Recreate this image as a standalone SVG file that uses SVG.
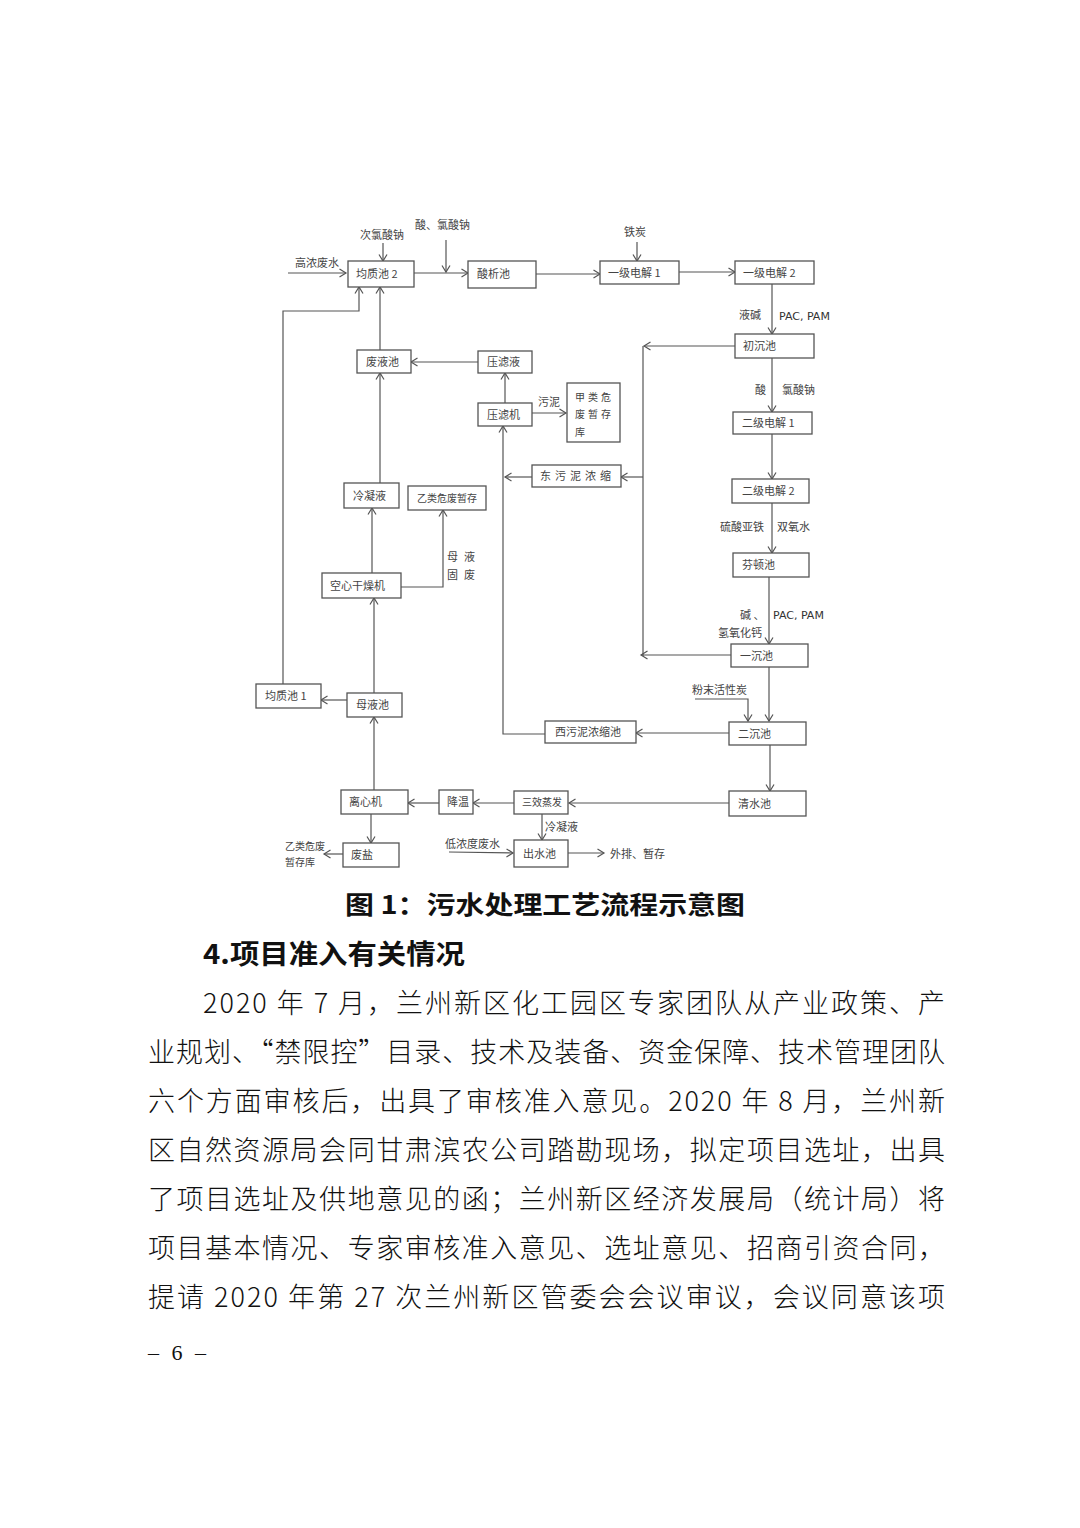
<svg xmlns="http://www.w3.org/2000/svg" width="1080" height="1528" viewBox="0 0 1080 1528">
<style>
.b{fill:#fff;stroke:#555;stroke-width:1.3}
.t{font-family:"Noto Sans CJK SC","Liberation Serif",sans-serif;font-size:11px;fill:#444}
.s{font-family:"Noto Sans CJK SC","Liberation Serif",sans-serif;font-size:10px;fill:#444}
.c path{fill:none;stroke:#555;stroke-width:1.2}
.p{font-family:"DejaVu Sans","Noto Sans CJK SC",sans-serif;font-size:11px;fill:#333}
.body{font-family:"Noto Sans CJK SC",sans-serif;font-size:27px;font-weight:300;fill:#111}
.h{font-family:"Noto Sans CJK SC",sans-serif;font-weight:bold;fill:#111}
</style>
<defs>
<marker id="a" markerWidth="10" markerHeight="10" refX="8" refY="5" orient="auto" markerUnits="userSpaceOnUse">
<path d="M1.5,1 L8,5 L1.5,9" fill="none" stroke="#555" stroke-width="1.2"/>
</marker>
</defs>
<rect width="1080" height="1528" fill="#fff"/>

<g class="c" id="connectors" marker-end="url(#a)">
<path d="M288,273 H346"/>
<path d="M383,243 V261"/>
<path d="M414,273 H468"/>
<path d="M446,240 V272"/>
<path d="M536,274 H600"/>
<path d="M637,242 V261"/>
<path d="M679,272 H735"/>
<path d="M772,284 V334"/>
<path d="M735,346 H644"/>
<path d="M643,346 V656" marker-end="none"/>
<path d="M772,358 V412"/>
<path d="M772,434 V479"/>
<path d="M772,503 V553"/>
<path d="M769,577 V644"/>
<path d="M731,655 H641"/>
<path d="M643,477 H621"/>
<path d="M532,477 H505"/>
<path d="M545,734 H503 V426"/>
<path d="M505,403 V373"/>
<path d="M532,413 H566"/>
<path d="M478,362 H411"/>
<path d="M380,350 V287"/>
<path d="M380,483 V373"/>
<path d="M372,573 V508"/>
<path d="M401,587 H443 V510"/>
<path d="M374,693 V598"/>
<path d="M347,700 H321"/>
<path d="M283,684 V311 H359 V287"/>
<path d="M769,667 V721"/>
<path d="M695,699 H748 V721"/>
<path d="M729,733 H636"/>
<path d="M770,745 V791"/>
<path d="M729,803 H569"/>
<path d="M514,803 H473"/>
<path d="M439,803 H408"/>
<path d="M374,790 V717"/>
<path d="M371,814 V843"/>
<path d="M343,854 H324"/>
<path d="M542,814 V840"/>
<path d="M449,852 L513,853"/>
<path d="M568,853 H604"/>
</g>

<g id="labels">
<text class="t" x="295" y="267">高浓废水</text>
<text class="t" x="360" y="239">次氯酸钠</text>
<text class="t" x="415" y="229">酸、氯酸钠</text>
<text class="t" x="624" y="236">铁炭</text>
<text class="t" x="739" y="319">液碱</text>
<text class="p" x="779" y="320">PAC, PAM</text>
<text class="t" x="755" y="394">酸</text>
<text class="t" x="782" y="394">氯酸钠</text>
<text class="t" x="538" y="406">污泥</text>
<text class="t" x="720" y="531">硫酸亚铁</text>
<text class="t" x="777" y="531">双氧水</text>
<text class="t" x="447" y="561" letter-spacing="6">母液</text>
<text class="t" x="447" y="579" letter-spacing="6">固废</text>
<text class="t" x="740" y="619">碱 、</text>
<text class="p" x="773" y="619">PAC, PAM</text>
<text class="t" x="718" y="637">氢氧化钙</text>
<text class="t" x="692" y="694">粉末活性炭</text>
<text class="t" x="545" y="831">冷凝液</text>
<text class="t" x="445" y="848">低浓度废水</text>
<text class="t" x="610" y="858">外排、暂存</text>
<text class="s" x="285" y="850" font-size="9">乙类危废</text>
<text class="s" x="285" y="866" font-size="9">暂存库</text>
</g>

<g id="n_jz2"><rect class="b" x="348" y="261" width="66" height="26"/><text class="t" x="356" y="278">均质池 2</text></g>
<g id="n_sx"><rect class="b" x="468" y="261" width="68" height="27"/><text class="t" x="477" y="278">酸析池</text></g>
<g id="n_yj1"><rect class="b" x="600" y="261" width="79" height="23"/><text class="t" x="608" y="277">一级电解 1</text></g>
<g id="n_yj2"><rect class="b" x="735" y="261" width="79" height="23"/><text class="t" x="743" y="277">一级电解 2</text></g>
<g id="n_cc"><rect class="b" x="735" y="334" width="79" height="24"/><text class="t" x="743" y="350">初沉池</text></g>
<g id="n_fy"><rect class="b" x="357" y="350" width="54" height="23"/><text class="t" x="366" y="366">废液池</text></g>
<g id="n_ylq"><rect class="b" x="478" y="351" width="54" height="22"/><text class="t" x="487" y="366">压滤液</text></g>
<g id="n_ylj"><rect class="b" x="478" y="403" width="54" height="23"/><text class="t" x="487" y="419">压滤机</text></g>
<g id="n_jl"><rect class="b" x="567" y="383" width="53" height="59"/>
<text class="s" x="575" y="401" letter-spacing="3">甲类危</text>
<text class="s" x="575" y="418" letter-spacing="3">废暂存</text>
<text class="s" x="575" y="436">库</text></g>
<g id="n_ej1"><rect class="b" x="733" y="412" width="79" height="22"/><text class="t" x="742" y="427">二级电解 1</text></g>
<g id="n_dwn"><rect class="b" x="532" y="465" width="89" height="22"/><text class="t" x="540" y="480" letter-spacing="4">东污泥浓缩</text></g>
<g id="n_ej2"><rect class="b" x="732" y="479" width="77" height="24"/><text class="t" x="742" y="495">二级电解 2</text></g>
<g id="n_lny"><rect class="b" x="344" y="483" width="55" height="25"/><text class="t" x="353" y="500">冷凝液</text></g>
<g id="n_yl"><rect class="b" x="408" y="486" width="78" height="24"/><text class="s" x="417" y="502">乙类危废暂存</text></g>
<g id="n_fd"><rect class="b" x="733" y="553" width="76" height="24"/><text class="t" x="742" y="569">芬顿池</text></g>
<g id="n_gz"><rect class="b" x="322" y="573" width="79" height="25"/><text class="t" x="330" y="590">空心干燥机</text></g>
<g id="n_yc"><rect class="b" x="731" y="644" width="77" height="23"/><text class="t" x="740" y="660">一沉池</text></g>
<g id="n_jz1"><rect class="b" x="256" y="684" width="65" height="24"/><text class="t" x="265" y="700">均质池 1</text></g>
<g id="n_my"><rect class="b" x="347" y="693" width="55" height="24"/><text class="t" x="356" y="709">母液池</text></g>
<g id="n_xwn"><rect class="b" x="545" y="721" width="91" height="22"/><text class="t" x="555" y="736">西污泥浓缩池</text></g>
<g id="n_ec"><rect class="b" x="729" y="722" width="77" height="23"/><text class="t" x="738" y="738">二沉池</text></g>
<g id="n_lx"><rect class="b" x="341" y="790" width="67" height="24"/><text class="t" x="349" y="806">离心机</text></g>
<g id="n_jw"><rect class="b" x="439" y="790" width="34" height="24"/><text class="t" x="447" y="806">降温</text></g>
<g id="n_sx3"><rect class="b" x="514" y="791" width="54" height="23"/><text class="s" x="522" y="806">三效蒸发</text></g>
<g id="n_qs"><rect class="b" x="729" y="791" width="77" height="25"/><text class="t" x="738" y="808">清水池</text></g>
<g id="n_fs"><rect class="b" x="343" y="843" width="56" height="24"/><text class="t" x="351" y="859">废盐</text></g>
<g id="n_cs"><rect class="b" x="514" y="840" width="54" height="27"/><text class="t" x="523" y="858">出水池</text></g>

<g id="text">
<text class="h" x="345" y="914" font-size="25" textLength="400" lengthAdjust="spacingAndGlyphs">图 1：污水处理工艺流程示意图</text>
<text class="h" x="203" y="964" font-size="27" textLength="262" lengthAdjust="spacingAndGlyphs">4.项目准入有关情况</text>
<text class="body" x="203" y="1013" textLength="742" lengthAdjust="spacing">2020 年 7 月，兰州新区化工园区专家团队从产业政策、产</text>
<text class="body" x="148" y="1062" textLength="797" lengthAdjust="spacing">业规划、“禁限控”目录、技术及装备、资金保障、技术管理团队</text>
<text class="body" x="148" y="1111" textLength="797" lengthAdjust="spacing">六个方面审核后，出具了审核准入意见。2020 年 8 月，兰州新</text>
<text class="body" x="148" y="1160" textLength="797" lengthAdjust="spacing">区自然资源局会同甘肃滨农公司踏勘现场，拟定项目选址，出具</text>
<text class="body" x="148" y="1209" textLength="797" lengthAdjust="spacing">了项目选址及供地意见的函；兰州新区经济发展局（统计局）将</text>
<text class="body" x="148" y="1258" textLength="797" lengthAdjust="spacing">项目基本情况、专家审核准入意见、选址意见、招商引资合同，</text>
<text class="body" x="148" y="1307" textLength="797" lengthAdjust="spacing">提请 2020 年第 27 次兰州新区管委会会议审议，会议同意该项</text>
<text x="148" y="1360" font-family="Liberation Serif, serif" font-size="22" fill="#111" textLength="58" lengthAdjust="spacing">– 6 –</text>
</g>
</svg>
